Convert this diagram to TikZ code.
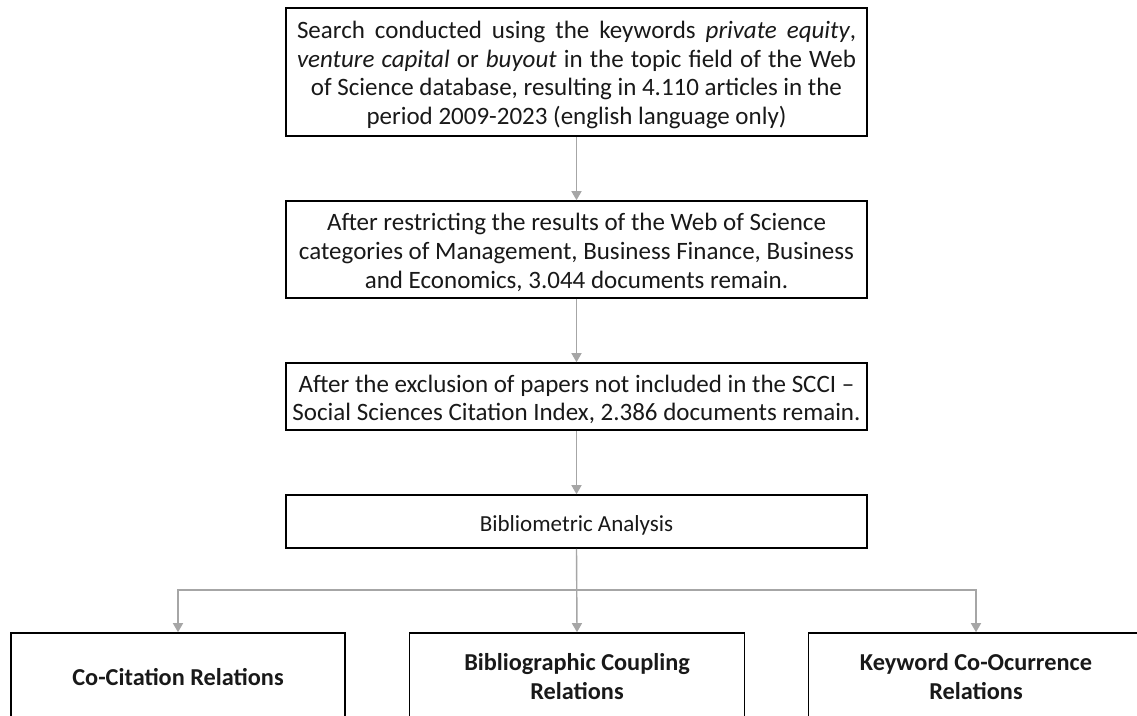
\documentclass[tikz,border=0pt]{standalone}
\usepackage{fontspec}
\setmainfont{Carlito}
\usetikzlibrary{arrows.meta}
\definecolor{arrowgray}{HTML}{A6A6A6}
\newcommand\tstrutx{\rule{0pt}{23pt}}
\tikzset{
  flowbox/.style={draw=black, line width=1.6pt, inner sep=0pt, align=center,
    font=\fontsize{25}{28.6}\selectfont, text=black!90},
  smallbox/.style={flowbox, font=\fontsize{23}{28.6}\selectfont},
  resbox/.style={flowbox, font=\fontsize{24.3}{29}\selectfont\bfseries},
  flowarrow/.style={draw=arrowgray, line width=1.4pt, -{Triangle[length=9pt,width=10pt]}}
}
\begin{document}
\begin{tikzpicture}[x=1pt,y=-1pt]
\useasboundingbox (0,0) rectangle (1137,715);
\clip (0,0) rectangle (1137,715);
\fill[white] (0,0) rectangle (1137,715);
\node[flowbox, minimum width=581pt, minimum height=128pt] (b1) at (576.5,72)
  {\tstrutx\makebox[559pt][s]{Search conducted using the keywords \textit{private equity},}\\
   \makebox[559pt][s]{\textit{venture capital} or \textit{buyout} in the topic field of the Web}\\
   of Science database, resulting in 4.110 articles in the\\
   period 2009-2023 (english language only)};
\node[flowbox, minimum width=581pt, minimum height=97pt] (b2) at (576.5,249.5)
  {\tstrutx After restricting the results of the Web of Science\\
   categories of Management, Business Finance, Business\\
   and Economics, 3.044 documents remain.};
\node[flowbox, minimum width=581pt, minimum height=67pt] (b3) at (576.5,396.5)
  {\tstrutx After the exclusion of papers not included in the SCCI –\\
   Social Sciences Citation Index, 2.386 documents remain.};
\node[smallbox, minimum width=581pt, minimum height=53pt] (b4) at (576.5,521.5)
  {\tstrutx Bibliometric Analysis};
\node[resbox, minimum width=334.5pt, minimum height=88pt] (c1) at (178,677)
  {Co-Citation Relations};
\node[resbox, minimum width=335pt, minimum height=88pt] (c2) at (577,677)
  {Bibliographic Coupling\\Relations};
\node[resbox, minimum width=335pt, minimum height=88pt] (c3) at (976,677)
  {Keyword Co-Ocurrence\\Relations};
\coordinate (j) at (577,590);
\draw[flowarrow] (b1.south) -- (b2.north);
\draw[flowarrow] (b2.south) -- (b3.north);
\draw[flowarrow] (b3.south) -- (b4.north);
\draw[flowarrow] (b4.south) -- (c2.north);
\draw[flowarrow] (j) -| (c1.north);
\draw[flowarrow] (j) -| (c3.north);
\end{tikzpicture}
\end{document}
